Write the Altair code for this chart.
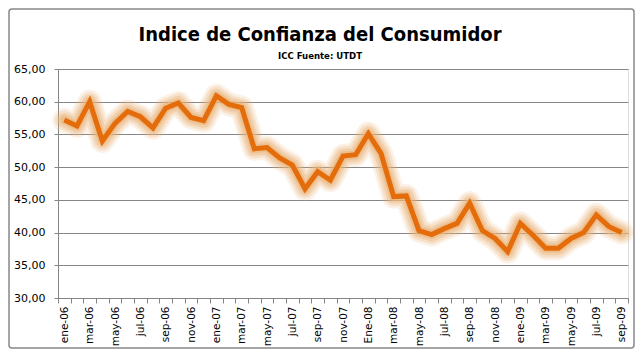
import altair as alt
import pandas as pd

months = ["ene", "feb", "mar", "abr", "may", "jun", "jul", "ago", "sep", "oct", "nov", "dic"]
labels = []
for yr in ["06", "07", "08", "09"]:
    for m in months:
        if yr == "09" and m in ["oct", "nov", "dic"]:
            continue
        lab = f"{m}-{yr}"
        if lab == "ene-08":
            lab = "Ene-08"
        labels.append(lab)

icc = [57.2, 56.3, 60.0, 54.0, 56.7, 58.5, 57.7, 56.0, 59.0, 59.8, 57.6, 57.1,
       60.9, 59.6, 59.1, 52.8, 53.0, 51.4, 50.3, 46.7, 49.3, 48.0, 51.7, 51.9,
       55.1, 52.1, 45.5, 45.6, 40.3, 39.7, 40.6, 41.4, 44.5, 40.3, 39.1, 37.1,
       41.4, 39.6, 37.6, 37.6, 39.1, 40.0, 42.7, 40.9, 40.0]

title_text = "Indice de Confianza del Consumidor"
subtitle_text = "ICC Fuente: UTDT"

shown = labels[::2]

df = pd.DataFrame({"mes": labels, "icc": icc})

label_expr = "indexof([" + ",".join(f"'{s}'" for s in shown) + "], datum.value) >= 0 ? datum.value : ''"

W, H = 570, 229
PL, PT, PR, PB = 50, 61, 7, 51
TFONT = "'DejaVu Sans Condensed', Roboto, sans-serif"

x = alt.X(
    "mes:O",
    sort=labels,
    scale=alt.Scale(type="band", paddingInner=0, paddingOuter=0),
    axis=alt.Axis(
        title=None,
        labelAngle=-90,
        labelAlign="right",
        labelBaseline="middle",
        labelExpr=label_expr,
        labelFont="DejaVu Sans",
        labelFontSize=10.5,
        labelColor="#000000",
        labelPadding=3,
        tickBand="extent",
        tickSize=5,
        tickColor="#868686",
        domainColor="#868686",
        grid=False,
        labelOverlap=False,
    ),
)
y = alt.Y(
    "icc:Q",
    scale=alt.Scale(domain=[30, 65], nice=False, zero=False),
    axis=alt.Axis(
        title=None,
        values=[30, 35, 40, 45, 50, 55, 60, 65],
        labelExpr="replace(format(datum.value, '.2f'), '.', ',')",
        labelFont="DejaVu Sans",
        labelFontSize=11,
        labelColor="#000000",
        labelPadding=9,
        tickSize=4,
        tickColor="#868686",
        domainColor="#868686",
        gridColor="#868686",
        gridOpacity=1,
    ),
)

base = alt.Chart(df)
glows = [
    base.mark_line(color="#E9B276", strokeWidth=w, opacity=o, strokeJoin="round", strokeCap="round").encode(x=x, y=y)
    for w, o in [(24, 0.18), (19, 0.26), (14, 0.36), (9, 0.55)]
]
line = base.mark_line(color="#E46C0A", strokeWidth=5, strokeJoin="miter").encode(x=x, y=y)

one = pd.DataFrame({"a": [0]})
frame = alt.Chart(one).mark_rect(
    fill=None, stroke="#888888", strokeWidth=1.5, cornerRadius=3
).encode(
    x=alt.value(-PL + 1),
    x2=alt.value(W + PR - 1),
    y=alt.value(-PT + 1),
    y2=alt.value(H + PB - 1),
)

title = alt.Chart(one).mark_text(
    text=title_text, font=TFONT, fontSize=20, fontWeight="bold",
    color="#000000", align="center", baseline="alphabetic",
).encode(x=alt.value(262), y=alt.value(-28))

subtitle = alt.Chart(one).mark_text(
    text=subtitle_text, font=TFONT, fontSize=9.5, fontWeight="bold",
    color="#000000", align="center", baseline="alphabetic",
).encode(x=alt.value(262), y=alt.value(-10))

chart = alt.layer(*glows, line, frame, title, subtitle).properties(
    width=W,
    height=H,
    autosize=alt.AutoSizeParams(type="none"),
    padding={"left": PL, "top": PT, "right": PR, "bottom": PB},
).configure_view(stroke=None).configure(background="white")

chart.save("out.html", embed_options={"renderer": "svg", "actions": False})
